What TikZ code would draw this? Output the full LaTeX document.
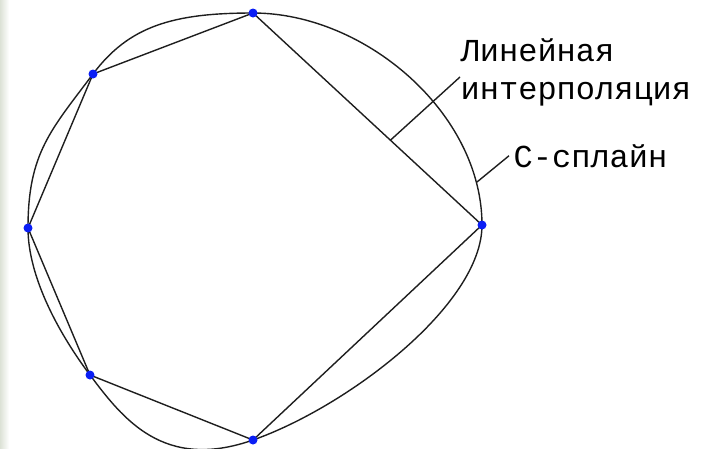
\documentclass[tikz,border=0pt]{standalone}
\usepackage{fontspec}
\usetikzlibrary{positioning, calc}
\newfontfamily\monofont{Liberation Mono}
\definecolor{cLine}{HTML}{1E1E1E}
\definecolor{cKnot}{HTML}{0A1EF5}
\definecolor{cEdge}{HTML}{DCE2D6}

\begin{document}
\begin{tikzpicture}[x=1pt, y=-1pt, line width=1.4pt,
    knot/.style={circle, fill=cKnot, inner sep=0pt, minimum size=9pt},
    lbl/.style={font=\monofont\fontsize{32}{38}\selectfont, inner sep=0pt,
      anchor=base west, align=left}]
  \useasboundingbox (0,0) rectangle (701,448);
  \fill[left color=cEdge, right color=white] (0,0) rectangle (9,448);
  % control points
  \coordinate (p1) at (253,13);
  \coordinate (p2) at (93,74);
  \coordinate (p3) at (28,228);
  \coordinate (p4) at (90,375);
  \coordinate (p5) at (253,440);
  \coordinate (p6) at (482,225);
  % C-spline
  \draw[cLine] (p1) .. controls (365,13) and (482,113) .. (p6)
    .. controls (482,305) and (347,407) .. (p5)
    .. controls (163.7,471.4) and (123,419) .. (p4)
    .. controls (60,335) and (28,278) .. (p3)
    .. controls (28,153) and (51,130) .. (p2)
    .. controls (129,26) and (173,13) .. (p1);
  % linear interpolation
  \draw[cLine] (p1) -- (p2) -- (p3) -- (p4) -- (p5) -- (p6) -- cycle;
  \foreach \i in {1,...,6}
    \node[knot] (k\i) at (p\i) {};
  % labels
  \node[lbl] (lin) at (460,99) {Линейная\\интерполяция};
  \node[lbl] (spl) at (513,167) {С-сплайн};
  \coordinate (linEnd) at (460,77);
  \coordinate (splPt) at (477,182);
  \draw[cLine] ($(p1)!0.6!(p6)$) -- (linEnd);
  \draw[cLine] (splPt) -- ([xshift=-4pt]spl.west);
\end{tikzpicture}
\end{document}
